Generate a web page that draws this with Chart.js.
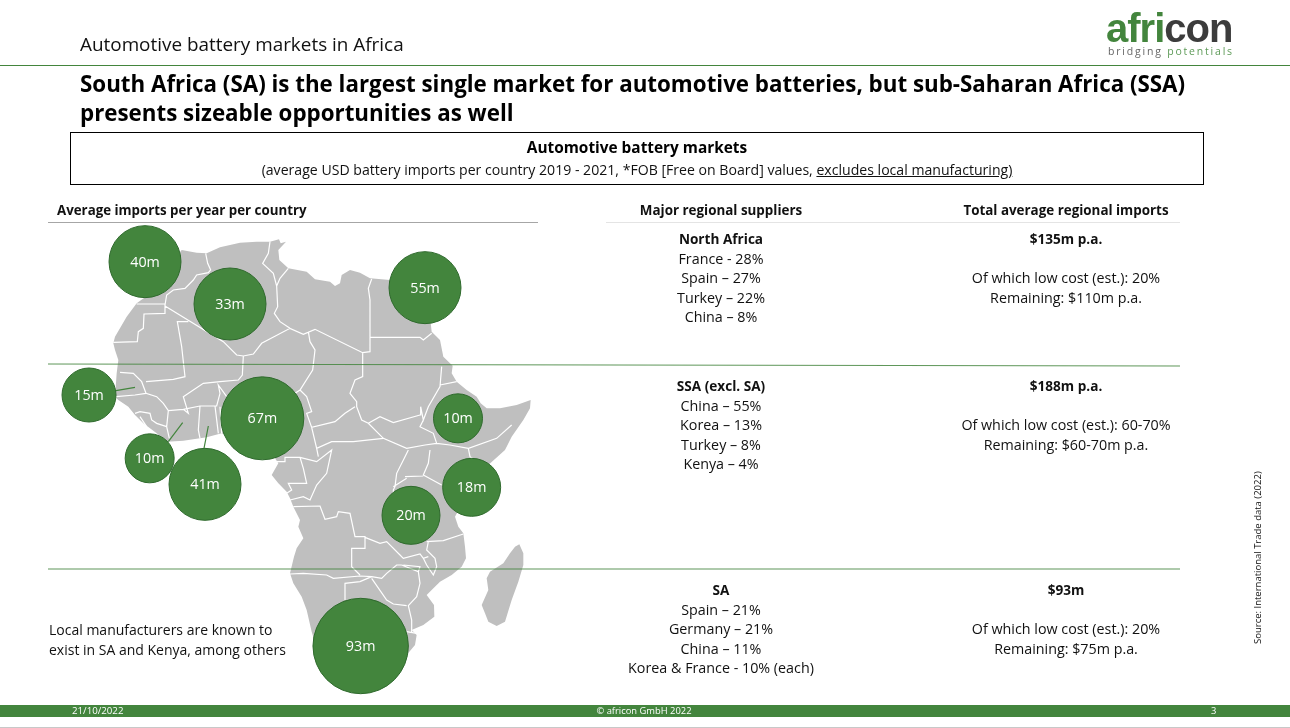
<!DOCTYPE html>
<html>
<head>
<meta charset="utf-8">
<script src="https://cdn.jsdelivr.net/npm/chart.js@4"></script>
<style>
html,body{margin:0;padding:0;background:#fff;overflow:hidden}
body{width:1290px;height:728px;position:relative;font-family:"Open Sans","Noto Sans",sans-serif;color:#111}
canvas{position:absolute;left:0;top:0}
.t{position:absolute;white-space:nowrap;line-height:19.5px;font-size:14.3px}
.c{text-align:center;transform:translateX(-50%)}
.b{font-weight:700;font-size:13.6px}
.r{position:absolute}
</style>
</head>
<body>
<canvas id="map" width="1290" height="728"></canvas>

<div class="t" style="left:80px;top:32px;font-size:18.9px;line-height:24px">Automotive battery markets in Africa</div>
<div class="t" style="left:1106px;top:8px;font:700 40px/40px 'Liberation Sans';letter-spacing:-1px"><span style="color:#43853d">afri</span><span style="color:#3c3c3c">con</span></div>
<div class="t" style="left:1108px;top:44px;font:400 10.5px/14px 'Open Sans';letter-spacing:1.8px;color:#666">bridging <span style="color:#5d9a57">potentials</span></div>
<div class="r" style="left:0;top:65px;width:1290px;height:1px;background:#43853d"></div>
<div class="t b" style="left:80px;top:69px;font-size:22.35px;line-height:29px;color:#000">South Africa (SA) is the largest single market for automotive batteries, but sub-Saharan Africa (SSA)<br>presents sizeable opportunities as well</div>

<div class="r" style="left:70px;top:132px;width:1132px;height:51px;border:1px solid #000"></div>
<div class="t b c" style="left:637px;top:137px;font-size:15.4px;line-height:22px;color:#000">Automotive battery markets</div>
<div class="t c" style="left:637px;top:160px;font-size:14.1px">(average USD battery imports per country 2019 - 2021, *FOB [Free on Board] values, <u>excludes local manufacturing)</u></div>

<div class="t b" style="left:57px;top:201px;font-size:13.3px">Average imports per year per country</div>
<div class="r" style="left:48px;top:222px;width:490px;height:1px;background:#a6a6a6"></div>
<div class="t b c" style="left:721px;top:201px;font-size:13.4px">Major regional suppliers</div>
<div class="t b c" style="left:1066px;top:201px;font-size:13.4px">Total average regional imports</div>
<div class="r" style="left:606px;top:222px;width:574px;height:1px;background:#e4e4e4"></div>

<div class="t c" style="left:721px;top:229px"><span class="b">North Africa</span><br>France - 28%<br>Spain – 27%<br>Turkey – 22%<br>China – 8%</div>
<div class="t c" style="left:1066px;top:229px"><span class="b">$135m p.a.</span><br><br>Of which low cost (est.): 20%<br>Remaining: $110m p.a.</div>
<div class="t c" style="left:721px;top:376px"><span class="b">SSA (excl. SA)</span><br>China – 55%<br>Korea – 13%<br>Turkey – 8%<br>Kenya – 4%</div>
<div class="t c" style="left:1066px;top:376px"><span class="b">$188m p.a.</span><br><br>Of which low cost (est.): 60-70%<br>Remaining: $60-70m p.a.</div>
<div class="t c" style="left:721px;top:580px"><span class="b">SA</span><br>Spain – 21%<br>Germany – 21%<br>China – 11%<br>Korea &amp; France - 10% (each)</div>
<div class="t c" style="left:1066px;top:580px"><span class="b">$93m</span><br><br>Of which low cost (est.): 20%<br>Remaining: $75m p.a.</div>

<div class="t" style="left:49px;top:620px;line-height:20px;font-size:14px">Local manufacturers are known to<br>exist in SA and Kenya, among others</div>

<div class="t" style="left:1258px;top:644px;font-size:9.5px;line-height:12px;transform-origin:0 0;transform:rotate(-90deg) translateY(-6px)">Source: International Trade data (2022)</div>

<div class="r" style="left:0;top:705px;width:1290px;height:12px;background:#43853d"></div>
<div class="t" style="left:72px;top:704px;font-size:9.7px;line-height:14px;color:#fff">21/10/2022</div>
<div class="t c" style="left:644px;top:704px;font-size:9.4px;line-height:14px;color:#fff">© africon GmbH 2022</div>
<div class="t" style="left:1211px;top:704px;font-size:9.4px;line-height:14px;color:#fff">3</div>
<div class="r" style="left:0;top:727px;width:1290px;height:1px;background:#c8c8c8"></div>

<script>
// imports per country, USD m, with the spot on the map grid
var marketValues = [40, 33, 55, 15, 10, 67, 41, 10, 18, 20, 93];
var marketGridX = [315, 570, 1155, 147, 329, 667, 495, 1254, 1295, 1113, 962];
var marketGridY = [185, 312, 263, 585, 775, 655, 853, 655, 862, 946, 1338];

var coastline = [[425,150],[470,158],[500,160],[540,142],[600,128],[650,125],[690,125],[717,118],[722,130],[738,125],[715,150],[718,180],[745,205],[800,215],[825,238],[870,245],[885,258],[900,250],[905,225],[930,210],[960,218],[990,235],[1050,240],[1120,235],[1150,250],[1150,300],[1170,350],[1175,395],[1200,420],[1210,470],[1238,497],[1235,520],[1250,545],[1280,570],[1310,590],[1322,610],[1340,625],[1380,625],[1430,615],[1472,600],[1470,625],[1450,660],[1415,710],[1395,750],[1345,795],[1300,850],[1245,950],[1255,980],[1270,1000],[1275,1040],[1278,1075],[1265,1100],[1235,1125],[1200,1145],[1175,1170],[1160,1185],[1182,1215],[1183,1250],[1150,1275],[1115,1290],[1130,1305],[1125,1335],[1100,1365],[1060,1420],[980,1445],[900,1450],[860,1430],[835,1360],[815,1295],[800,1230],[785,1190],[760,1150],[750,1120],[762,1070],[770,1045],[790,1015],[775,980],[780,960],[760,920],[750,895],[740,875],[715,850],[695,825],[715,790],[705,775],[660,760],[600,720],[545,700],[500,712],[430,722],[380,725],[350,700],[310,670],[285,645],[265,620],[235,600],[225,590],[230,520],[235,480],[225,450],[220,430],[225,410],[260,350],[290,310],[315,292],[350,260],[385,200]];
var madagascar = [[1438,1033],[1450,1060],[1450,1095],[1435,1145],[1415,1200],[1395,1265],[1370,1278],[1345,1265],[1335,1240],[1325,1215],[1345,1170],[1340,1135],[1350,1115],[1390,1090],[1410,1060],[1425,1040]];

var borders = [
  [[497,160],[503,190],[512,210],[505,218],[470,225],[460,240],[435,265],[400,270],[380,285],[375,315],[375,340],[312,342],[310,385],[295,395],[292,425],[220,427]],
  [[290,312],[375,312]],
  [[375,318],[550,425],[590,465],[610,468],[640,462],[665,430],[750,385],[790,403],[825,388],[968,458],[990,455],[990,415],[990,300],[985,265],[995,237]],
  [[690,125],[685,160],[668,190],[700,220],[710,258],[713,320],[703,340],[720,365],[750,385]],
  [[745,205],[720,235],[710,258]],
  [[990,412],[1140,412],[1150,420],[1175,400]],
  [[805,395],[810,425],[825,450],[818,510],[780,570],[765,580]],
  [[610,468],[607,525],[595,540],[540,545],[490,550],[460,570],[430,590],[445,640],[430,628],[385,632],[370,610],[350,590],[318,580],[305,545],[280,520],[240,517]],
  [[445,365],[412,365],[425,440],[435,530],[400,538],[318,545]],
  [[228,590],[285,585],[318,580]],
  [[430,628],[480,618],[530,618],[540,580],[535,555],[560,590]],
  [[480,618],[475,690],[480,715]],
  [[525,618],[535,700]],
  [[540,620],[545,700]],
  [[385,632],[380,680],[388,715]],
  [[285,640],[300,635],[330,640],[335,660],[350,670],[380,680]],
  [[300,650],[320,680]],
  [[968,458],[968,530],[945,540],[930,580],[950,605],[950,620],[965,660],[985,670],[1030,715],[1100,745],[1155,735],[1190,730],[1230,735],[1285,745]],
  [[945,620],[915,640],[885,665],[815,682],[800,640],[815,635],[800,590],[780,570]],
  [[815,682],[830,745],[875,725],[940,725],[1030,715]],
  [[985,670],[1020,650],[1060,668],[1140,645],[1142,620],[1150,660],[1165,620],[1200,560],[1205,500]],
  [[1200,555],[1250,545]],
  [[1150,660],[1140,680],[1180,700],[1190,730]],
  [[1415,675],[1370,715],[1285,745],[1290,770],[1320,790]],
  [[710,785],[735,785],[735,772],[780,772],[830,785],[875,750],[860,820],[830,855],[810,900],[790,890],[750,900]],
  [[830,745],[835,770]],
  [[780,772],[790,805],[800,850],[745,850],[755,870],[740,880]],
  [[760,920],[840,918],[855,958],[890,950],[895,935],[930,940],[945,1010],[975,1010],[975,1045],[935,1045],[935,1100],[960,1125]],
  [[975,1012],[1020,1030],[1040,1025],[1080,1065],[1090,1075],[1140,1062],[1150,1075],[1165,1070]],
  [[1105,750],[1095,770],[1070,820],[1065,860],[1060,870],[1060,900]],
  [[1170,750],[1165,790],[1150,825],[1205,855]],
  [[1095,830],[1150,828]],
  [[1060,860],[1100,835]],
  [[1160,1025],[1210,1022],[1270,1002]],
  [[1165,1025],[1160,1050],[1185,1075],[1190,1100],[1180,1125],[1160,1095],[1150,1075]],
  [[1085,1095],[1070,1095],[1040,1120],[1025,1135],[995,1130],[960,1128],[880,1135],[860,1125],[790,1120],[750,1122]],
  [[995,1130],[960,1145],[915,1150],[915,1200]],
  [[995,1135],[1040,1200],[1060,1212],[1100,1217]],
  [[1085,1095],[1135,1115],[1140,1150],[1130,1190],[1105,1217],[1115,1260],[1115,1300]],
  [[1090,1095],[1140,1100],[1135,1115]],
  [[1100,1295],[1130,1300]]
];

// thin leaders from small bubbles to their countries
var leaders = [[[228,572],[285,562]], [[385,725],[428,668]], [[492,745],[505,678]]];
var dividers = [[[24,492],[3420,498]], [[24,1107],[3420,1107]]];

// bubble size comes in bands, not proportional to value
function bubbleRadius(v){
  if (v <= 10) return 24.5;
  if (v <= 15) return 27;
  if (v <= 20) return 29;
  if (v <= 55) return 36;
  if (v <= 67) return 41.5;
  return 47.7;
}

function toPoints(list){return list.map(function(p){return {x: p[0], y: p[1]}})}
function joinLines(lines){
  var out = [];
  lines.forEach(function(l){out = out.concat(toPoints(l)); out.push({x: null, y: null})});
  return out;
}

var bubbleLabels = {
  id: 'bubbleLabels',
  afterDatasetsDraw: function(chart){
    var meta = chart.getDatasetMeta(0), ctx = chart.ctx;
    ctx.save();
    ctx.font = '14.3px "Open Sans"';
    ctx.fillStyle = '#fff';
    ctx.textAlign = 'center';
    ctx.textBaseline = 'middle';
    meta.data.forEach(function(pt, i){ctx.fillText(marketValues[i] + 'm', pt.x, pt.y + 1)});
    ctx.restore();
  }
};

var lineBase = {type: 'scatter', showLine: true, pointRadius: 0, pointHoverRadius: 0, tension: 0};

new Chart(document.getElementById('map').getContext('2d'), {
  type: 'bubble',
  data: {datasets: [
    {
      label: 'Average imports',
      data: marketValues.map(function(v, i){return {x: marketGridX[i], y: marketGridY[i], r: bubbleRadius(v)}}),
      radius: 0,
      backgroundColor: '#43853d',
      borderColor: '#2f6a2d',
      borderWidth: 1
    },
    Object.assign({}, lineBase, {data: joinLines(dividers), borderColor: 'rgba(67,133,61,0.85)', borderWidth: 1.2}),
    Object.assign({}, lineBase, {data: joinLines(leaders), borderColor: '#43853d', borderWidth: 1.2}),
    Object.assign({}, lineBase, {data: joinLines(borders), borderColor: '#ffffff', borderWidth: 1.2}),
    Object.assign({}, lineBase, {data: toPoints(madagascar), fill: 'shape', backgroundColor: '#bfbfbf', borderWidth: 0}),
    Object.assign({}, lineBase, {data: toPoints(coastline), fill: 'shape', backgroundColor: '#bfbfbf', borderWidth: 0})
  ]},
  options: {
    responsive: false,
    animation: false,
    devicePixelRatio: 1,
    layout: {padding: 0, autoPadding: false},
    plugins: {legend: {display: false}, tooltip: {enabled: false}},
    scales: {
      x: {type: 'linear', display: false, min: -120, max: 3750},
      y: {type: 'linear', display: false, min: -600, max: 1584, reverse: true}
    }
  },
  plugins: [bubbleLabels]
});
</script>
</body>
</html>
